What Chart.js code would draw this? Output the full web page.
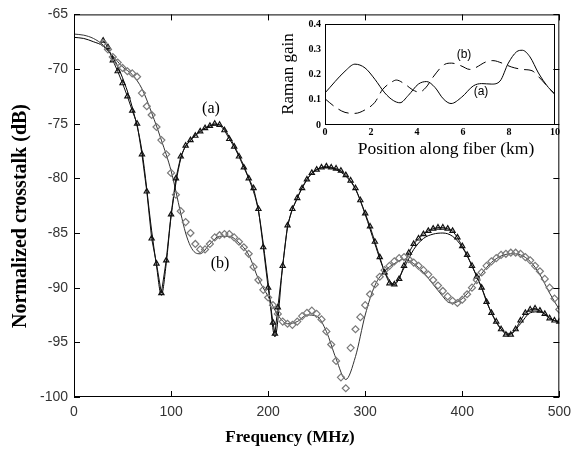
<!DOCTYPE html>
<html><head><meta charset="utf-8">
<script src="https://cdn.jsdelivr.net/npm/chart.js@4.4.1/dist/chart.umd.min.js"></script>
<style>
html,body{margin:0;padding:0;background:#fff;}
#wrap{position:relative;width:578px;height:450px;overflow:hidden;}
#main{position:absolute;left:0;top:0;}
#inset{position:absolute;left:280px;top:14px;}
</style></head><body>
<div id="wrap"><canvas id="main" width="578" height="450"></canvas><canvas id="inset" width="285" height="150"></canvas></div>
<script>
// ---- main chart: measured (a) triangles ----
const freqA = [30,35,40,45,50,55,60,65,70,75,80,85,90,95,100,105,110,115,120,125,130,135,140,145,150,155,160,165,170,175,180,185,190,195,200,205,207,210,215,220,225,230,235,240,245,250,255,260,265,270,275,280,285,290,295,300,305,310,315,320,325,330,335,340,345,350,355,360,365,370,375,380,385,390,395,400,405,410,415,420,425,430,435,440,445,450,455,460,465,470,475,480,485,490,495,500];
const crossA = [-67.4,-68.0,-69.2,-70.2,-71.3,-72.5,-73.8,-75.0,-77.8,-81.2,-85.5,-87.8,-90.5,-87.5,-83.3,-80.0,-78.0,-77.0,-76.5,-76.1,-75.7,-75.4,-75.2,-75.0,-75.1,-75.6,-76.4,-77.1,-78.0,-79.0,-80.0,-80.9,-82.8,-86.3,-90.0,-93.2,-94.2,-91.8,-88.0,-84.3,-82.8,-81.8,-80.9,-80.1,-79.5,-79.2,-79.0,-78.9,-79.0,-79.1,-79.3,-79.7,-80.2,-80.9,-82.0,-83.2,-84.4,-85.8,-87.2,-88.6,-89.6,-89.7,-89.2,-88.0,-86.8,-86.0,-85.5,-85.1,-84.8,-84.6,-84.5,-84.5,-84.6,-84.8,-85.4,-86.2,-87.0,-88.0,-89.0,-90.0,-91.3,-92.3,-93.1,-93.8,-94.3,-94.3,-93.8,-93.0,-92.3,-92.0,-91.9,-92.1,-92.4,-92.8,-93.0,-93.1];
// ---- measured (b) diamonds ----
const freqB = [30,35,40,45,50,55,60,65,70,75,80,85,90,95,100,105,110,115,120,125,130,135,140,145,150,155,160,165,170,175,180,185,190,195,200,205,210,215,220,225,230,235,240,245,250,255,260,265,270,275,280,285,290,295,300,305,310,315,320,325,330,335,340,345,350,355,360,365,370,375,380,385,390,395,400,405,410,415,420,425,430,435,440,445,450,455,460,465,470,475,480,485,490,495,500];
const crossB = [-67.6,-68.2,-68.9,-69.4,-69.9,-70.2,-70.4,-70.7,-72.2,-73.4,-74.2,-75.3,-76.5,-77.8,-79.5,-81.5,-83.0,-84.0,-85.0,-86.0,-86.5,-86.5,-86.0,-85.4,-85.2,-85.1,-85.1,-85.4,-85.8,-86.3,-86.9,-88.1,-89.3,-90.2,-90.9,-91.6,-92.4,-93.1,-93.3,-93.4,-93.1,-92.6,-92.3,-92.1,-92.4,-92.9,-94.0,-95.2,-96.7,-98.2,-99.2,-95.5,-93.8,-92.7,-91.6,-90.6,-89.7,-89.0,-88.4,-88.0,-87.6,-87.3,-87.2,-87.4,-87.7,-88.0,-88.4,-88.8,-89.3,-89.8,-90.3,-90.8,-91.2,-91.4,-91.1,-90.6,-90.0,-89.3,-88.6,-88.0,-87.6,-87.3,-87.0,-86.9,-86.8,-86.8,-86.9,-87.2,-87.5,-88.0,-88.5,-89.2,-90.0,-91.0,-92.0];
// ---- theory curves ----
const freqThA = [0,10,20,30,40,50,60,70,80,85,90,95,100,110,120,130,140,150,160,170,180,190,200,207,215,220,230,240,250,260,270,280,290,300,310,320,330,340,350,360,370,380,390,400,410,420,430,440,450,460,470,480,490,500];
const crossThA = [-67.1,-67.2,-67.5,-67.9,-68.9,-70.8,-73.5,-77.5,-84.8,-88.0,-90.7,-87.8,-83.5,-78.2,-76.5,-75.7,-75.2,-75.1,-76.2,-77.9,-80.0,-83.0,-89.5,-94.5,-88.0,-84.5,-81.8,-80.1,-79.2,-79.0,-79.2,-79.8,-81.0,-83.3,-86.0,-88.5,-89.7,-88.2,-86.5,-85.5,-85.1,-85.0,-85.3,-86.3,-88.0,-90.0,-92.3,-93.8,-94.2,-93.3,-92.3,-92.2,-92.8,-93.2];
const freqThB = [0,10,20,30,40,50,60,70,80,90,100,110,115,120,125,130,140,150,160,170,180,190,200,210,220,230,240,250,260,270,280,290,300,310,320,330,340,350,360,370,380,385,390,400,410,420,430,440,450,460,470,480,490,500];
const crossThB = [-66.8,-66.9,-67.2,-67.8,-68.8,-69.8,-70.5,-71.8,-74.0,-76.5,-79.3,-83.2,-85.0,-86.2,-86.8,-86.9,-86.0,-85.3,-85.3,-85.9,-87.0,-89.2,-90.8,-92.5,-93.3,-93.1,-92.5,-92.6,-94.0,-96.5,-98.4,-96.3,-92.5,-89.8,-88.5,-87.8,-87.4,-87.8,-88.6,-89.7,-90.8,-91.3,-91.4,-91.0,-90.0,-88.7,-87.7,-87.1,-86.9,-87.0,-87.6,-88.8,-90.5,-92.0];
const freqTicks = [0,100,200,300,400,500];
const crossTicks = [-100,-95,-90,-85,-80,-75,-70,-65];
// ---- inset: Raman gain vs position ----
const posA = [0,0.87,1.3,1.74,2.17,2.6,2.97,3.26,3.62,4.06,4.42,4.78,5.14,5.48,5.94,6.45,6.81,7.25,7.61,7.97,8.33,8.58,8.91,9.28,9.71,10];
const gainA = [0.127,0.213,0.241,0.226,0.181,0.127,0.097,0.088,0.117,0.162,0.172,0.149,0.104,0.085,0.110,0.155,0.164,0.162,0.174,0.245,0.290,0.296,0.270,0.206,0.149,0.123];
const posB = [0,0.43,0.87,1.3,1.74,2.17,2.5,2.9,3.1,3.5,3.8,4.1,4.4,4.7,5.2,5.5,5.9,6.3,6.5,7.0,7.3,7.7,8.1,8.6,9.0,9.3,9.7,10];
const gainB = [0.104,0.072,0.050,0.046,0.060,0.090,0.140,0.170,0.178,0.160,0.140,0.130,0.150,0.190,0.240,0.245,0.235,0.220,0.225,0.250,0.255,0.245,0.230,0.220,0.215,0.190,0.150,0.120];

const pts = (xs, ys) => xs.map((x, i) => ({x: x, y: ys[i]}));

const mainExtras = {
  id: 'mainExtras',
  afterDraw(chart) {
    const ctx = chart.ctx, a = chart.chartArea;
    const sx = chart.scales.x, sy = chart.scales.y;
    ctx.save();
    ctx.strokeStyle = '#000'; ctx.lineWidth = 1;
    ctx.strokeRect(a.left + 0.5, a.top + 0.5, a.right - a.left - 1, a.bottom - a.top - 1);
    ctx.beginPath();
    freqTicks.forEach(v => {
      const x = Math.round(sx.getPixelForValue(v)) + 0.5;
      ctx.moveTo(x, a.bottom); ctx.lineTo(x, a.bottom - 6);
      ctx.moveTo(x, a.top); ctx.lineTo(x, a.top + 6);
    });
    crossTicks.forEach(v => {
      const y = Math.round(sy.getPixelForValue(v)) + 0.5;
      ctx.moveTo(a.left, y); ctx.lineTo(a.left + 6, y);
      ctx.moveTo(a.right, y); ctx.lineTo(a.right - 6, y);
    });
    ctx.stroke();
    ctx.fillStyle = '#000';
    ctx.textAlign = 'center'; ctx.textBaseline = 'middle';
    ctx.font = 'bold 17px "Liberation Serif"';
    ctx.fillText('Frequency (MHz)', 290, 438);
    ctx.save();
    ctx.translate(21, 216); ctx.rotate(-Math.PI / 2);
    ctx.font = 'bold 20px "Liberation Serif"';
    ctx.fillText('Normalized crosstalk (dB)', 0, 0);
    ctx.restore();
    ctx.font = '16px "Liberation Serif"';
    ctx.fillText('(a)', 211, 109);
    ctx.fillText('(b)', 220, 264);
    ctx.restore();
  }
};

new Chart(document.getElementById('main'), {
  type: 'line',
  data: {
    datasets: [
      {label: '(b) measured', data: pts(freqB, crossB), showLine: false, pointStyle: 'rectRot', pointRadius: 3.5, borderColor: '#7a7a7a', backgroundColor: 'rgba(255,255,255,0)', borderWidth: 1.2},
      {label: '(a) measured', data: pts(freqA, crossA), showLine: true, borderColor: '#111', pointStyle: 'triangle', pointRadius: 3, pointBorderColor: '#111', pointBackgroundColor: 'rgba(255,255,255,0)', borderWidth: 1, pointBorderWidth: 1.2, tension: 0},
      {label: '(a) theory', data: pts(freqThA, crossThA), borderColor: '#000', borderWidth: 1, pointRadius: 0, cubicInterpolationMode: 'monotone', fill: false},
      {label: '(b) theory', data: pts(freqThB, crossThB), borderColor: '#333', borderWidth: 1, pointRadius: 0, cubicInterpolationMode: 'monotone', fill: false}
    ]
  },
  options: {
    responsive: false, animation: false, devicePixelRatio: 1,
    layout: {padding: {top: 13, right: 14, left: 0, bottom: 0}},
    plugins: {legend: {display: false}, tooltip: {enabled: false}},
    scales: {
      x: {type: 'linear', min: 0, max: 500,
          afterBuildTicks(s) { s.ticks = freqTicks.map(v => ({value: v})); },
          ticks: {font: {family: 'Liberation Sans', size: 14}, color: '#333', padding: 7, maxRotation: 0},
          grid: {display: false, drawTicks: false}, border: {display: false},
          afterFit(s) { s.height = 53; }},
      y: {type: 'linear', min: -100, max: -65,
          afterBuildTicks(s) { s.ticks = crossTicks.map(v => ({value: v})); },
          ticks: {font: {family: 'Liberation Sans', size: 14}, color: '#333', padding: 6},
          grid: {display: false, drawTicks: false}, border: {display: false},
          afterFit(s) { s.width = 74; }}
    }
  },
  plugins: [mainExtras]
});

const insetExtras = {
  id: 'insetExtras',
  afterDraw(chart) {
    const ctx = chart.ctx, a = chart.chartArea;
    ctx.save();
    ctx.strokeStyle = '#000'; ctx.lineWidth = 1;
    ctx.strokeRect(a.left + 0.5, a.top + 0.5, a.right - a.left - 1, a.bottom - a.top - 1);
    ctx.fillStyle = '#000';
    ctx.textAlign = 'center'; ctx.textBaseline = 'middle';
    ctx.font = '17.5px "Liberation Serif"';
    ctx.fillText('Position along fiber (km)', 166, 135);
    ctx.save();
    ctx.translate(9, 60); ctx.rotate(-Math.PI / 2);
    ctx.font = '17px "Liberation Serif"';
    ctx.fillText('Raman gain', 0, 0);
    ctx.restore();
    ctx.font = '12px "Liberation Sans"';
    ctx.fillText('(a)', 201, 78);
    ctx.fillText('(b)', 184, 41);
    ctx.restore();
  }
};

new Chart(document.getElementById('inset'), {
  type: 'line',
  data: {
    datasets: [
      {label: '(a)', data: pts(posA, gainA), borderColor: '#000', borderWidth: 1, pointRadius: 0, cubicInterpolationMode: 'monotone', fill: false},
      {label: '(b)', data: pts(posB, gainB), borderColor: '#000', borderWidth: 1, borderDash: [11, 6], pointRadius: 0, cubicInterpolationMode: 'monotone', fill: false}
    ]
  },
  options: {
    responsive: false, animation: false, devicePixelRatio: 1,
    layout: {padding: {top: 6, right: 10, left: 0, bottom: 0}},
    plugins: {legend: {display: false}, tooltip: {enabled: false}},
    scales: {
      x: {type: 'linear', min: 0, max: 10,
          ticks: {stepSize: 2, font: {family: 'Liberation Serif', size: 10, weight: 'bold'}, color: '#000', padding: 1, maxRotation: 0},
          grid: {display: false, drawTicks: false}, border: {display: false},
          afterFit(s) { s.height = 39; }},
      y: {type: 'linear', min: 0, max: 0.4,
          ticks: {stepSize: 0.1, font: {family: 'Liberation Serif', size: 10, weight: 'bold'}, color: '#000', padding: 4},
          grid: {display: false, drawTicks: false}, border: {display: false},
          afterFit(s) { s.width = 45; }}
    }
  },
  plugins: [insetExtras]
});
</script>
</body></html>
